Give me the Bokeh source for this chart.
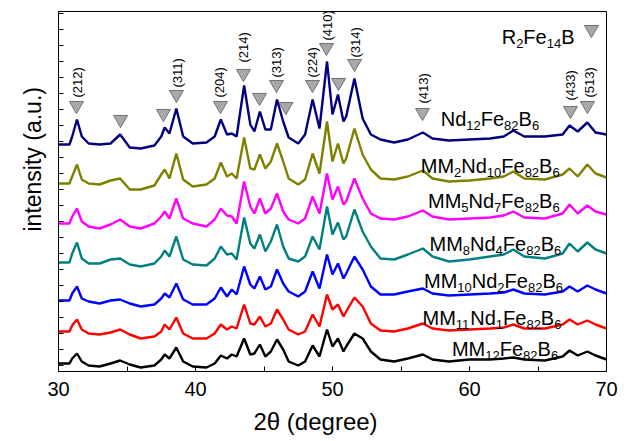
from bokeh.plotting import figure
from bokeh.models import Range1d, SingleIntervalTicker, FixedTicker, ColumnDataSource, Title
from bokeh.embed import file_html
from bokeh.resources import INLINE
from bokeh.core.properties import value
import math

# ---------------- data ----------------
two_theta = [30.0, 30.8, 31.0, 31.35, 31.7, 32.2, 33.0, 33.8, 34.5, 35.2, 36.0, 37.0, 37.5, 37.75,
             38.1, 38.6, 39.1, 39.8, 40.8, 41.4, 41.85, 42.3, 42.65, 43.0, 43.55, 44.0, 44.3, 44.7,
             45.1, 45.5, 45.95, 46.4, 46.8, 47.5, 48.0, 48.55, 49.05, 49.6, 50.0, 50.4, 50.8, 51.0,
             51.6, 52.2, 52.8, 53.5, 54.5, 55.5, 56.6, 57.3, 58.5, 60.0, 61.5, 62.5, 63.2, 64.0,
             65.5, 66.8, 67.3, 67.9, 68.6, 69.2, 70.0]

nd12 = [227, 227, 235, 252, 235, 228, 227, 228, 237, 224, 223, 226, 235, 244, 238, 263, 235, 228, 229, 235,
        252, 237, 238, 235, 286, 247, 240, 260, 242, 242, 272, 250, 234, 228, 237, 272, 243, 310, 257, 277,
        250, 255, 293, 253, 237, 232, 229, 232, 239, 233, 231, 232, 233, 235, 241, 235, 235, 237, 246, 240,
        249, 239, 237]
mm2 = [188, 188, 195, 207, 192, 188, 187, 191, 193, 182, 182, 186, 197, 202, 193, 218, 192, 185, 187, 193,
       209, 195, 198, 193, 234, 203, 202, 217, 203, 210, 228, 210, 193, 187, 192, 218, 198, 250, 210, 228,
       208, 213, 243, 217, 202, 193, 192, 195, 201, 193, 190, 191, 193, 195, 200, 193, 192, 197, 203, 195,
       207, 198, 194]
mm5 = [148, 148, 155, 163, 150, 145, 143, 147, 152, 145, 143, 148, 155, 160, 153, 173, 153, 148, 145, 152,
       163, 156, 155, 148, 190, 165, 158, 173, 158, 163, 178, 160, 152, 148, 153, 175, 158, 198, 172, 185,
       167, 170, 193, 173, 158, 153, 152, 155, 161, 155, 152, 153, 154, 156, 160, 154, 153, 158, 167, 158,
       166, 160, 157]
mm8 = [109, 109, 118, 129, 113, 108, 108, 112, 113, 107, 105, 108, 115, 121, 115, 135, 112, 107, 106, 113,
       125, 117, 118, 112, 154, 128, 123, 137, 120, 130, 147, 125, 113, 110, 115, 135, 122, 165, 137, 149,
       132, 135, 162, 140, 125, 113, 112, 117, 123, 115, 110, 112, 115, 117, 122, 115, 113, 118, 128, 120,
       129, 122, 118]
mm10 = [71, 71, 78, 85, 73, 70, 68, 71, 72, 68, 65, 67, 73, 78, 74, 88, 72, 67, 67, 73,
        84, 75, 82, 77, 105, 87, 83, 95, 82, 85, 102, 88, 80, 75, 80, 100, 83, 117, 97, 108,
        93, 98, 115, 102, 85, 77, 77, 80, 83, 78, 76, 77, 78, 79, 82, 78, 77, 80, 85, 80,
        86, 82, 78]
mm11 = [40, 40, 46, 52, 42, 38, 37, 39, 42, 37, 33, 35, 40, 47, 42, 54, 38, 33, 33, 38,
        47, 42, 45, 43, 67, 48, 47, 55, 45, 48, 62, 52, 42, 37, 40, 57, 45, 77, 62, 67,
        55, 60, 74, 65, 48, 41, 40, 43, 48, 43, 41, 42, 43, 44, 47, 43, 43, 47, 52, 47,
        51, 47, 43]
mm12 = [8, 8, 13, 18, 10, 6, 5, 8, 11, 7, 4, 6, 12, 17, 13, 24, 10, 5, 4, 8,
        16, 13, 17, 15, 33, 17, 18, 27, 15, 20, 32, 22, 10, 6, 10, 26, 15, 42, 25, 33,
        20, 25, 38, 33, 20, 12, 10, 13, 17, 12, 10, 12, 12, 13, 14, 12, 11, 15, 21, 16,
        20, 16, 12]

series_values = [nd12, mm2, mm5, mm8, mm10, mm11, mm12]
series_colors = ["#000080", "#808000", "#FF00FF", "#008080", "#0000FF", "#FF0000", "#000000"]

# sample names as (text, is_subscript) pieces
sample_names = [
    [("Nd", 0), ("12", 1), ("Fe", 0), ("82", 1), ("B", 0), ("6", 1)],
    [("MM", 0), ("2", 1), ("Nd", 0), ("10", 1), ("Fe", 0), ("82", 1), ("B", 0), ("6", 1)],
    [("MM", 0), ("5", 1), ("Nd", 0), ("7", 1), ("Fe", 0), ("82", 1), ("B", 0), ("6", 1)],
    [("MM", 0), ("8", 1), ("Nd", 0), ("4", 1), ("Fe", 0), ("82", 1), ("B", 0), ("6", 1)],
    [("MM", 0), ("10", 1), ("Nd", 0), ("2", 1), ("Fe", 0), ("82", 1), ("B", 0), ("6", 1)],
    [("MM", 0), ("11", 1), ("Nd", 0), ("1", 1), ("Fe", 0), ("82", 1), ("B", 0), ("6", 1)],
    [("MM", 0), ("12", 1), ("Fe", 0), ("82", 1), ("B", 0), ("6", 1)],
]
name_x = [57.90, 56.44, 56.97, 57.08, 56.68, 56.57, 58.72]
name_y = [253, 206, 171, 128, 91, 54, 23]

phase_name = [("R", 0), ("2", 1), ("Fe", 0), ("14", 1), ("B", 0)]
phase_x, phase_y = 62.35, 335
phase_marker_x, phase_marker_y = 68.9, 342

# R2Fe14B reflections
marker_x = [31.31, 34.53, 37.66, 38.61, 41.82, 43.50, 44.67, 45.91, 46.6, 48.54, 49.56, 50.44, 51.61,
            56.57, 67.37, 68.61]
marker_y = [266, 252, 258, 277, 266, 298, 274, 287, 265, 287, 324, 289, 308, 259, 261, 266]

hkl_text = ["(212)", "(311)", "(204)", "(214)", "(313)", "(224)", "(410)", "(314)", "(413)", "(433)", "(513)"]
hkl_x = [31.39, 38.69, 41.75, 43.50, 45.91, 48.54, 49.64, 51.68, 56.64, 67.37, 68.76]
hkl_y = [274, 284, 274, 309, 294, 294, 331, 314, 268, 271, 274]

x_title = "2θ (degree)"
y_title = "intensity (a.u.)"

# ---------------- figure ----------------
FONT = "Liberation Sans"
p = figure(width=632, height=441, x_range=Range1d(30, 70), y_range=Range1d(0, 360),
           output_backend="svg", toolbar_location=None,
           min_border_left=58, min_border_right=26, min_border_top=11, min_border_bottom=70)
p.background_fill_color = "white"
p.border_fill_color = "white"
p.xgrid.visible = False
p.ygrid.visible = False
p.outline_line_color = "black"
p.outline_line_width = 1

ax = p.xaxis[0]
ax.ticker = SingleIntervalTicker(interval=10, num_minor_ticks=2)
ax.major_tick_in = 5
ax.major_tick_out = 0
ax.minor_tick_in = 5
ax.minor_tick_out = 0
ax.major_label_text_font = FONT
ax.major_label_text_font_size = "20px"
ax.major_label_text_color = "black"
ax.major_label_standoff = 10
ax.axis_line_color = "black"

ay = p.yaxis[0]
yt = list(range(6, 360, 16))
ay.ticker = FixedTicker(ticks=yt)
ay.major_label_overrides = {t: "" for t in yt}
ay.major_tick_in = 5
ay.major_tick_out = 0
ay.minor_tick_in = 0
ay.minor_tick_out = 0
ay.major_label_standoff = 0
ay.axis_line_color = "black"

p.add_layout(Title(text=x_title, align="left", offset=195, standoff=14, text_font=FONT,
                   text_font_size="24px", text_font_style="normal", text_color="black"), "below")
p.add_layout(Title(text=y_title, align="left", offset=140, standoff=25, text_font=FONT,
                   text_font_size="23px", text_font_style="normal", text_color="black"), "left")

for vals, col in zip(series_values, series_colors):
    p.line(two_theta, vals, line_color=col, line_width=2.4)

p.scatter(marker_x + [phase_marker_x], marker_y + [phase_marker_y], marker="inverted_triangle",
          size=14, fill_color="#A8A8A8", line_color="#707070", line_width=1)

p.text(x=hkl_x, y=hkl_y, text=hkl_text, angle=math.pi / 2, text_align="left",
       text_baseline="middle", text_font=value(FONT), text_font_size="13px", text_color="black")

# composite labels with subscripts
WID = {"M": 833, "N": 722, "d": 556, "F": 611, "e": 556, "B": 667, "R": 722}
MAIN, SUB = 20, 13


def pieces(parts, x0, y0):
    rows_main, rows_sub = [], []
    off = 0.0
    for s, sub in parts:
        size = SUB if sub else MAIN
        w = sum(WID.get(c, 556) for c in s) * size / 1000.0
        (rows_sub if sub else rows_main).append((x0, y0, s, off))
        off += w
    return rows_main, rows_sub


main_rows, sub_rows = [], []
for parts, x0, y0 in zip(sample_names, name_x, name_y):
    a, b = pieces(parts, x0, y0)
    main_rows += a
    sub_rows += b
a, b = pieces(phase_name, phase_x, phase_y)
main_rows += a
sub_rows += b

for rows, size, yoff in ((main_rows, MAIN, 0), (sub_rows, SUB, 7)):
    src = ColumnDataSource(dict(x=[r[0] for r in rows], y=[r[1] for r in rows],
                                t=[r[2] for r in rows], xo=[r[3] for r in rows]))
    p.text(x="x", y="y", text="t", x_offset="xo", y_offset=yoff, source=src,
           text_align="left", text_baseline="alphabetic", text_font=value(FONT),
           text_font_size=f"{size}px", text_color="black")

open("out.html", "w").write(file_html(p, INLINE))
